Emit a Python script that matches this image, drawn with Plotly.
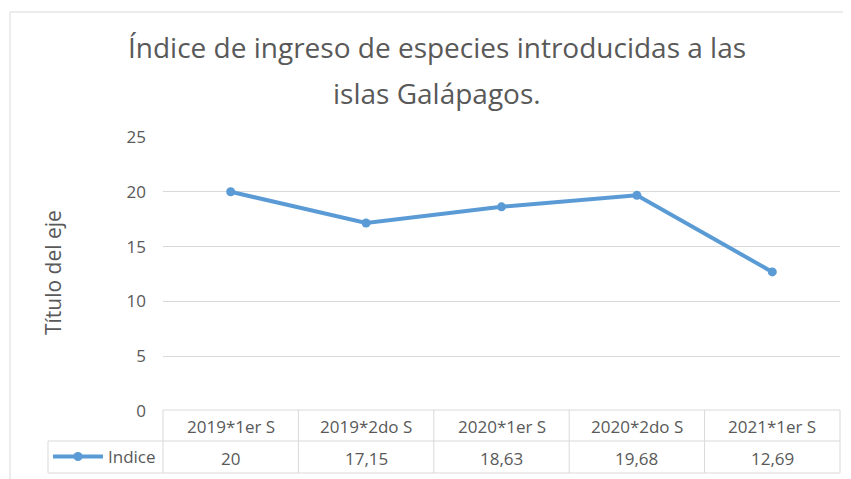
import plotly.graph_objects as go

categories = ['2019*1er S', '2019*2do S', '2020*1er S', '2020*2do S', '2021*1er S']
indice = [20, 17.15, 18.63, 19.68, 12.69]
series_name = 'Indice'
title_lines = ['Índice de ingreso de especies introducidas a las', 'islas Galápagos.']
y_title = 'Título del eje'
y_ticks = [0, 5, 10, 15, 20, 25]

# the page body adds an 8px margin, so the figure is made smaller and
# all reference pixel positions are shifted by it
OFF = 8
W, H = 851 - OFF, 479 - OFF
L, R, T, B = 163 - OFF, 840 - OFF, 137 - OFF, 411 - OFF   # plot area in figure pixels
GRID = '#d9d9d9'
TXT = '#595959'
BLUE = '#5b9bd5'
FONT = 'Open Sans'


def px(x):
    # x given in window pixels
    return (x - OFF - L) / (R - L)


def py(y):
    return (B - (y - OFF)) / (B - T)


def fmt(v):
    return f'{v:g}'.replace('.', ',')


fig = go.Figure()
fig.add_trace(go.Scatter(
    x=categories, y=indice, name=series_name, mode='lines+markers',
    line=dict(color=BLUE, width=4),
    marker=dict(size=9, color=BLUE),
))

n = len(categories)
shapes = [
    # chart area border
    dict(type='rect', xref='paper', yref='paper', x0=px(10), x1=px(870), y0=py(500), y1=py(12),
         line=dict(color=GRID, width=1)),
    # data table: header row + data row
    dict(type='line', xref='paper', yref='paper', x0=0, x1=1, y0=py(410), y1=py(410), line=dict(color=GRID, width=1)),
    dict(type='line', xref='paper', yref='paper', x0=px(48), x1=1, y0=py(441), y1=py(441), line=dict(color=GRID, width=1)),
    dict(type='line', xref='paper', yref='paper', x0=px(48), x1=1, y0=py(473), y1=py(473), line=dict(color=GRID, width=1)),
    dict(type='line', xref='paper', yref='paper', x0=px(48), x1=px(48), y0=py(441), y1=py(473), line=dict(color=GRID, width=1)),
]
for i in range(n + 1):
    shapes.append(dict(type='line', xref='paper', yref='paper', x0=i / n, x1=i / n,
                       y0=py(410), y1=py(473), line=dict(color=GRID, width=1)))

ann = dict(xanchor='center', yanchor='middle', showarrow=False)
annotations = [
    dict(text=title_lines[0], xref='paper', yref='paper', x=px(437), y=py(47),
         font=dict(family=FONT, size=28, color=TXT), **ann),
    dict(text=title_lines[1], xref='paper', yref='paper', x=px(437), y=py(93),
         font=dict(family=FONT, size=28, color=TXT), **ann),
    dict(text=y_title, xref='paper', yref='paper', x=px(53), y=py(272), textangle=-90,
         font=dict(family=FONT, size=21, color=TXT), **ann),
]
for c, v in zip(categories, indice):
    annotations.append(dict(text=c, x=c, xref='x', yref='paper', y=py(426),
                            font=dict(family=FONT, size=17, color=TXT), **ann))
    annotations.append(dict(text=fmt(v), x=c, xref='x', yref='paper', y=py(458),
                            font=dict(family=FONT, size=17, color=TXT), **ann))

fig.update_layout(
    width=W, height=H,
    margin=dict(l=L, r=W - R, t=T, b=H - B, autoexpand=False),
    paper_bgcolor='white', plot_bgcolor='white',
    showlegend=True,
    legend=dict(x=px(48), y=py(457), xanchor='left', yanchor='middle', bgcolor='rgba(0,0,0,0)',
                font=dict(family=FONT, size=17, color=TXT), itemwidth=50),
    shapes=shapes,
    annotations=annotations,
    separators=',.',
)
fig.update_xaxes(range=[-0.5, n - 0.5], showticklabels=False, showgrid=False, showline=False,
                 zeroline=False, ticks='')
fig.update_yaxes(range=[0, 25], tickvals=y_ticks, showgrid=True, gridcolor=GRID, gridwidth=1,
                 zeroline=False, showline=False, ticklabelstandoff=16,
                 tickfont=dict(family=FONT, size=17, color=TXT))

fig.write_html('out.html')
